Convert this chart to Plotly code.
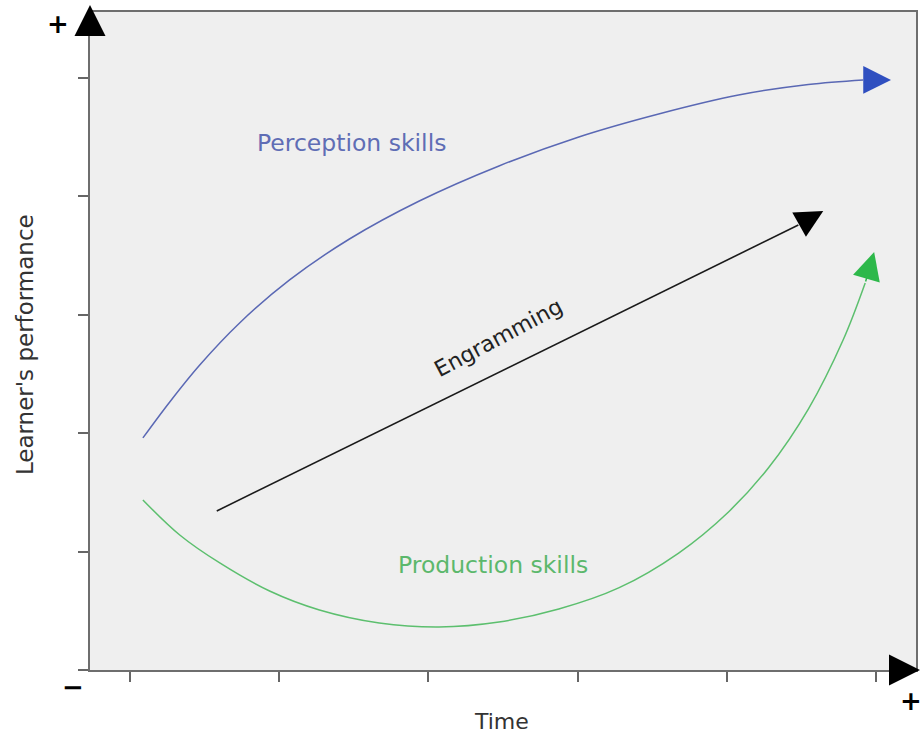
import plotly.graph_objects as go

# ---- axes (data units) ----
x_ticks = [0, 1, 2, 3, 4, 5]
y_ticks = [0, 1, 2, 3, 4, 5]
x_range = [-0.2674, 5.2674]
y_range = [0, 5.557]

# ---- series ----
perception_x = [0.087, 0.267, 0.468, 0.735, 1.070, 1.471, 1.939, 2.473, 3.008, 3.543, 4.078, 4.546, 4.913]
perception_y = [1.960, 2.264, 2.576, 2.931, 3.294, 3.640, 3.961, 4.257, 4.502, 4.696, 4.856, 4.945, 4.983]
perception_tip = [5.100, 4.983]

production_x = [0.087, 0.334, 0.602, 0.936, 1.270, 1.671, 2.072, 2.473, 2.874, 3.275, 3.677, 4.011, 4.278, 4.546, 4.779, 4.927]
production_y = [1.436, 1.140, 0.904, 0.667, 0.507, 0.397, 0.363, 0.405, 0.515, 0.693, 0.988, 1.335, 1.706, 2.204, 2.787, 3.269]
production_tip = [4.987, 3.530]

engramming_x = [0.582, 4.479]
engramming_y = [1.343, 3.758]
engramming_tip = [4.646, 3.877]

labels = ["Perception skills", "Production skills", "Engramming"]
label_x = [1.484, 2.433, 2.473]
label_y = [4.451, 0.887, 2.804]

BLUE_LINE = "#5a68b4"
BLUE_HEAD = "#2f4fc0"
GREEN_LINE = "#5cbf6e"
GREEN_HEAD = "#2db84a"
FONT = "DejaVu Sans"

fig = go.Figure()
fig.add_trace(go.Scatter(x=perception_x, y=perception_y, mode="lines",
                         line=dict(color=BLUE_LINE, width=1.5, shape="spline"),
                         hoverinfo="skip", showlegend=False))
fig.add_trace(go.Scatter(x=production_x, y=production_y, mode="lines",
                         line=dict(color=GREEN_LINE, width=1.5, shape="spline"),
                         hoverinfo="skip", showlegend=False))
fig.add_trace(go.Scatter(x=engramming_x, y=engramming_y, mode="lines",
                         line=dict(color="#1a1a1a", width=1.6),
                         hoverinfo="skip", showlegend=False))

def head(tail_x, tail_y, tip, color, size=3.7, width=1.5):
    fig.add_annotation(x=tip[0], y=tip[1], ax=tail_x, ay=tail_y,
                       xref="x", yref="y", axref="x", ayref="y",
                       text="", showarrow=True, arrowhead=2,
                       arrowsize=size, arrowwidth=width, arrowcolor=color)

head(perception_x[-1], perception_y[-1], perception_tip, BLUE_HEAD)
head(production_x[-1], production_y[-1], production_tip, GREEN_HEAD)
head(engramming_x[-1], engramming_y[-1], engramming_tip, "#000000")

# axis arrowheads
fig.add_annotation(x=0, y=1.0106, xref="paper", yref="paper", ax=0, ay=30,
                   text="", showarrow=True, arrowhead=2, arrowsize=3.1,
                   arrowwidth=2, arrowcolor="#000000")
fig.add_annotation(x=1.0135, y=0, xref="paper", yref="paper", ax=-30, ay=0,
                   text="", showarrow=True, arrowhead=2, arrowsize=3.1,
                   arrowwidth=2, arrowcolor="#000000")

# curve labels
label_colors = ["#5f6db5", "#5cb86c", "#222222"]
label_angles = [0, 0, -28]
label_sizes = [23.5, 23.5, 22]
for t, lx, ly, c, a, s in zip(labels, label_x, label_y, label_colors, label_angles, label_sizes):
    fig.add_annotation(x=lx, y=ly, xref="x", yref="y", text=t, showarrow=False,
                       textangle=a, xanchor="center", yanchor="middle",
                       font=dict(family=FONT, size=s, color=c))

# axis titles and signs
def paper_text(x, y, text, font, angle=0):
    fig.add_annotation(x=x, y=y, xref="paper", yref="paper", text=text,
                       showarrow=False, textangle=angle,
                       xanchor="center", yanchor="middle", font=font)

paper_text(0.4976, -0.078, "Time", dict(family=FONT, size=22, color="#333333"))
paper_text(-0.0785, 0.494, "Learner's performance",
           dict(family=FONT, size=23, color="#333333"), angle=-90)
sign_style = dict(family=FONT, size=26, color="#000000", weight="bold")
paper_text(-0.0387, 0.9825, "+", sign_style)
paper_text(0.9945, -0.0465, "+", sign_style)
paper_text(-0.0205, -0.0258, "\u2212", sign_style)

axis_common = dict(showline=True, linewidth=2, linecolor="#6e6e6e", mirror=True,
                   showgrid=False, zeroline=False, showticklabels=False,
                   ticks="outside", ticklen=10, tickwidth=1.5, tickcolor="#666666",
                   fixedrange=True)

fig.update_layout(
    width=921, height=738,
    margin=dict(l=90, r=3, t=12, b=68),
    paper_bgcolor="#ffffff",
    plot_bgcolor="#efefef",
    xaxis=dict(range=x_range, tickvals=x_ticks, **axis_common),
    yaxis=dict(range=y_range, tickvals=y_ticks, **axis_common),
    showlegend=False,
)

# place the figure flush with the window (no default page margin / scrollbars)
fig.write_html(
    "out.html",
    config={"displayModeBar": False},
    post_script="document.body.style.margin='0';"
                "document.documentElement.style.overflow='hidden';"
                "document.body.style.overflow='hidden';",
)
